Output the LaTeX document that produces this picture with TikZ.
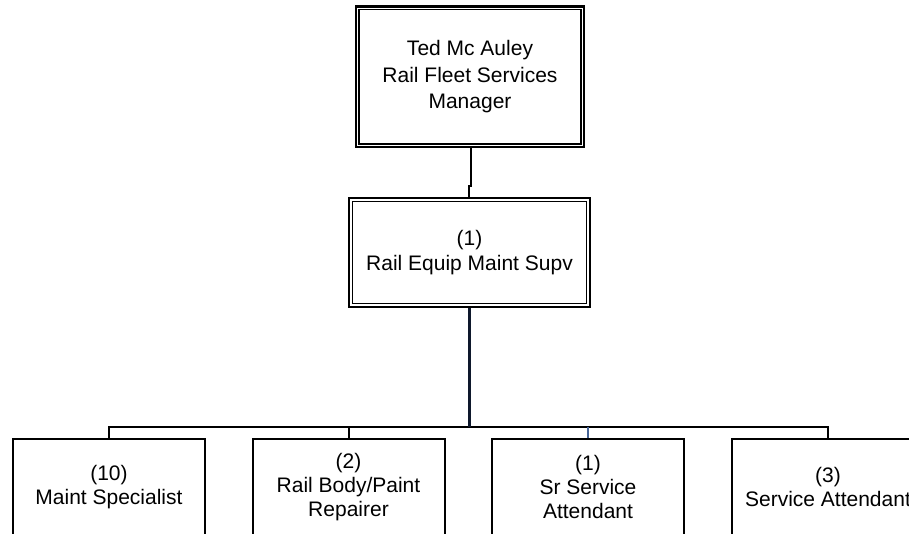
\documentclass[tikz,border=0pt]{standalone}
\usepackage{fontspec}
\setmainfont{Liberation Sans}
\begin{document}
\begin{tikzpicture}[x=0.75pt,y=-0.75pt,
  txt/.style={align=center,font=\fontsize{15.75pt}{18.3pt}\selectfont},
  outerbox/.style={draw=black,line width=1.6pt,fill=white,inner sep=0pt,txt},
  innerline/.style={draw=black,line width=1.1pt},
  leafbox/.style={draw=black,line width=1.5pt,fill=white,inner sep=0pt,txt,minimum width=144pt,minimum height=72pt},
  conn/.style={draw=black,line width=1.5pt},
  mainconn/.style={draw={rgb,255:red,14;green,24;blue,44},line width=2pt},
  thinconn/.style={draw={rgb,255:red,70;green,100;blue,150},line width=0.8pt}]
\useasboundingbox (0,0) rectangle (909,533);
\clip (0,0) rectangle (909,533);
\fill[white] (0,0) rectangle (909,533);

% top box
\node[outerbox,line width=2pt,minimum width=171pt,minimum height=105.4pt,
  font=\fontsize{15.75pt}{20pt}\selectfont] (top) at (470,76.75)
  {Ted Mc Auley\\Rail Fleet Services\\Manager};
\draw[innerline] ([shift={(4.5,4.5)}]top.north west) rectangle ([shift={(-4.5,-4.5)}]top.south east);

% middle box
\node[outerbox,minimum width=180.75pt,minimum height=81.75pt,
  font=\fontsize{15.75pt}{19pt}\selectfont] (mid) at (469.5,252.5)
  {(1)\\Rail Equip Maint Supv};
\draw[innerline] ([shift={(4.5,4.5)}]mid.north west) rectangle ([shift={(-4.5,-4.5)}]mid.south east);

% leaf boxes
\node[leafbox] (b1) at (109,487) {(10)\\Maint Specialist};
\node[leafbox] (b2) at (348.5,487) {(2)\\Rail Body/Paint\\Repairer};
\node[leafbox] (b3) at (588,487) {(1)\\Sr Service\\Attendant};
\node[leafbox] (b4) at (828,487) {(3)\\Service Attendant};

% connectors
\coordinate (j1) at (471,186);
\coordinate (j2) at (469,186);
\coordinate (busc) at (469.3,427);
\draw[conn] (top.south -| j1) -- (j1) -- (j2) -- (mid.north -| j2);
\draw[conn] (b1.north) -- (b1.north |- busc) -- (b4.north |- busc) -- (b4.north);
\draw[conn] (b2.north |- busc) -- (b2.north);
\draw[thinconn] (b3.north |- busc) -- (b3.north);
\draw[mainconn] (mid.south -| busc) -- (busc);
\end{tikzpicture}
\end{document}
